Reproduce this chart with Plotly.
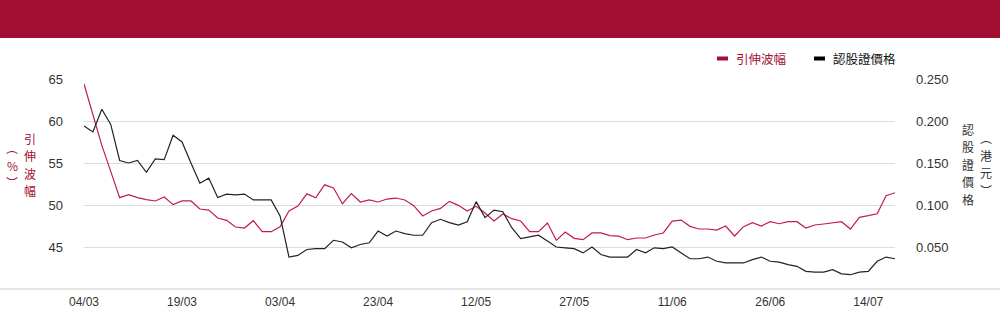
import plotly.graph_objects as go

# ---------------- data ----------------
dates = [
    "04/03", "05/03", "06/03", "07/03", "10/03", "11/03", "12/03", "13/03", "14/03", "17/03",
    "18/03", "19/03", "20/03", "21/03", "24/03", "25/03", "26/03", "27/03", "28/03", "31/03",
    "01/04", "02/04", "03/04", "07/04", "08/04", "09/04", "10/04", "11/04", "14/04", "15/04",
    "16/04", "17/04", "22/04", "23/04", "24/04", "25/04", "28/04", "29/04", "30/04", "02/05",
    "06/05", "07/05", "08/05", "09/05", "12/05", "13/05", "14/05", "15/05", "16/05", "19/05",
    "20/05", "21/05", "22/05", "23/05", "26/05", "27/05", "28/05", "29/05", "30/05", "02/06",
    "03/06", "04/06", "05/06", "06/06", "09/06", "10/06", "11/06", "12/06", "13/06", "16/06",
    "17/06", "18/06", "19/06", "20/06", "23/06", "24/06", "25/06", "26/06", "27/06", "30/06",
    "02/07", "03/07", "04/07", "07/07", "08/07", "09/07", "10/07", "11/07", "14/07", "15/07",
    "16/07", "17/07",
]

implied_vol = [
    64.4, 60.75, 57.1, 54.0, 50.87, 51.23, 50.87, 50.63, 50.48, 50.95,
    50.04, 50.48, 50.48, 49.52, 49.40, 48.45, 48.17, 47.38, 47.26, 48.13,
    46.82, 46.82, 47.4, 49.3, 49.88, 51.33, 50.85, 52.4, 52.02, 50.15,
    51.35, 50.36, 50.6, 50.36, 50.71, 50.83, 50.6, 49.92, 48.69, 49.28,
    49.6, 50.43, 49.96, 49.28, 49.84, 49.04, 48.09, 48.93, 48.37, 48.09,
    46.82, 46.82, 47.86, 45.79, 46.78, 46.03, 45.87, 46.67, 46.67, 46.35,
    46.3, 45.87, 46.07, 46.07, 46.43, 46.67, 48.09, 48.21, 47.46, 47.14,
    47.14, 47.02, 47.5, 46.31, 47.42, 47.89, 47.5, 48.01, 47.77, 48.01,
    48.01, 47.26, 47.62, 47.74, 47.86, 48.01, 47.14, 48.53, 48.73, 48.96,
    51.11, 51.46,
]

warrant_price = [
    0.194, 0.187, 0.214, 0.196, 0.153, 0.150, 0.153, 0.139, 0.155, 0.154,
    0.183, 0.175, 0.150, 0.126, 0.132, 0.109, 0.113, 0.112, 0.113, 0.106,
    0.106, 0.106, 0.087, 0.038, 0.040, 0.047, 0.048, 0.048, 0.058, 0.056,
    0.049, 0.053, 0.055, 0.069, 0.063, 0.069, 0.066, 0.064, 0.064, 0.079,
    0.083, 0.079, 0.076, 0.080, 0.104, 0.085, 0.094, 0.092, 0.073, 0.060,
    0.062, 0.064, 0.057, 0.050, 0.049, 0.048, 0.043, 0.050, 0.041, 0.038,
    0.038, 0.038, 0.047, 0.043, 0.049, 0.048, 0.050, 0.043, 0.036, 0.036,
    0.038, 0.033, 0.031, 0.031, 0.031, 0.035, 0.038, 0.033, 0.032, 0.029,
    0.027, 0.021, 0.020, 0.020, 0.023, 0.018, 0.017, 0.020, 0.021, 0.033,
    0.038, 0.036,
]

x_tick_labels = ["04/03", "19/03", "03/04", "23/04", "12/05", "27/05", "11/06", "26/06", "14/07"]
left_ticks = [45, 50, 55, 60, 65]
right_ticks = [0.05, 0.10, 0.15, 0.20, 0.25]

series_names = ["引伸波幅", "認股證價格"]
left_title_main = "引伸波幅"
left_title_unit = ["︵", "%", "︶"]
right_title_main = "認股證價格"
right_title_unit = ["︵", "港", "元", "︶"]

# ---------------- style ----------------
W, H = 1000, 324
ML, MR, MT, MB = 84, 105, 79, 35
PW, PH = W - ML - MR, H - MT - MB
CRIMSON = "#A50E33"
LINE_RED = "#C01E48"
DARK = "#222222"
TEXT = "#333333"
CJK = "Noto Sans CJK TC, Noto Sans CJK SC, sans-serif"
NUM = "Liberation Sans, Arial, sans-serif"
STEP = 17.5   # vertical spacing of stacked characters
VSIZE = 12    # font size of stacked characters


def px(x):
    return (x - ML) / PW


def py(y):
    return (H - MB - y) / PH


fig = go.Figure()
fig.add_trace(go.Scatter(
    x=dates, y=implied_vol, name=series_names[0], mode="lines",
    line=dict(color=LINE_RED, width=1.2), yaxis="y", showlegend=False,
))
fig.add_trace(go.Scatter(
    x=dates, y=warrant_price, name=series_names[1], mode="lines",
    line=dict(color=DARK, width=1.2), yaxis="y2", showlegend=False,
))

shapes = [
    # header bar
    dict(type="rect", xref="paper", yref="paper", x0=px(0), x1=px(W), y0=py(38), y1=py(0),
         fillcolor=CRIMSON, line=dict(width=0), layer="below"),
    # bottom base line across the full width
    dict(type="line", xref="paper", yref="paper", x0=px(0), x1=px(W), y0=0, y1=0,
         line=dict(color="#cccccc", width=1)),
    # legend swatches
    dict(type="rect", xref="paper", yref="paper", x0=px(717), x1=px(728), y0=py(60.5), y1=py(56.5),
         fillcolor=CRIMSON, line=dict(width=0)),
    dict(type="rect", xref="paper", yref="paper", x0=px(814), x1=px(825), y0=py(60.5), y1=py(56.5),
         fillcolor="#000000", line=dict(width=0)),
]

annotations = [
    dict(text=series_names[0], xref="paper", yref="paper", x=px(734), y=py(58.5),
         xanchor="left", yanchor="middle", showarrow=False,
         font=dict(family=CJK, size=12.5, color=CRIMSON)),
    dict(text=series_names[1], xref="paper", yref="paper", x=px(831), y=py(58.5),
         xanchor="left", yanchor="middle", showarrow=False,
         font=dict(family=CJK, size=12.5, color="#111111")),
]


def stack(chars, cx, cy, color):
    n = len(chars)
    top = cy - (n - 1) * STEP / 2
    for k, ch in enumerate(chars):
        annotations.append(dict(
            text=ch, xref="paper", yref="paper", x=px(cx), y=py(top + k * STEP),
            xanchor="center", yanchor="middle", showarrow=False,
            font=dict(family=CJK, size=VSIZE, color=color)))


stack(list(left_title_main), 30, 164.5, CRIMSON)
stack(left_title_unit, 12, 165, CRIMSON)
stack(list(right_title_main), 968, 164, TEXT)
stack(right_title_unit, 986, 164, TEXT)

fig.update_layout(
    width=W, height=H,
    margin=dict(l=ML, r=MR, t=MT, b=MB, pad=0),
    paper_bgcolor="white", plot_bgcolor="white",
    showlegend=False,
    hovermode=False,
    xaxis=dict(
        type="category", categoryorder="array", categoryarray=dates,
        range=[0, len(dates) - 1],
        tickmode="array", tickvals=x_tick_labels, ticktext=x_tick_labels,
        showgrid=False, zeroline=False, showline=False, ticks="",
        tickfont=dict(family="Liberation Sans Narrow, Arial Narrow, Liberation Sans, sans-serif",
                      size=12, color=TEXT),
        ticklabelstandoff=4,
    ),
    yaxis=dict(
        range=[40, 65], tickmode="array", tickvals=left_ticks,
        ticktext=[str(v) for v in left_ticks],
        showgrid=True, gridcolor="#dddddd", gridwidth=1,
        zeroline=False, showline=False, ticks="",
        tickfont=dict(family=NUM, size=13, color=TEXT),
        ticklabelstandoff=20,
    ),
    yaxis2=dict(
        range=[0, 0.25], overlaying="y", side="right", tickmode="array",
        tickvals=right_ticks, ticktext=[f"{v:.3f}" for v in right_ticks],
        showgrid=False, zeroline=False, showline=False, ticks="",
        tickfont=dict(family=NUM, size=13, color=TEXT),
        ticklabelstandoff=20,
    ),
    shapes=shapes,
    annotations=annotations,
)

fig.write_html("out.html", config={"displayModeBar": False},
               post_script="document.body.style.margin='0';")
